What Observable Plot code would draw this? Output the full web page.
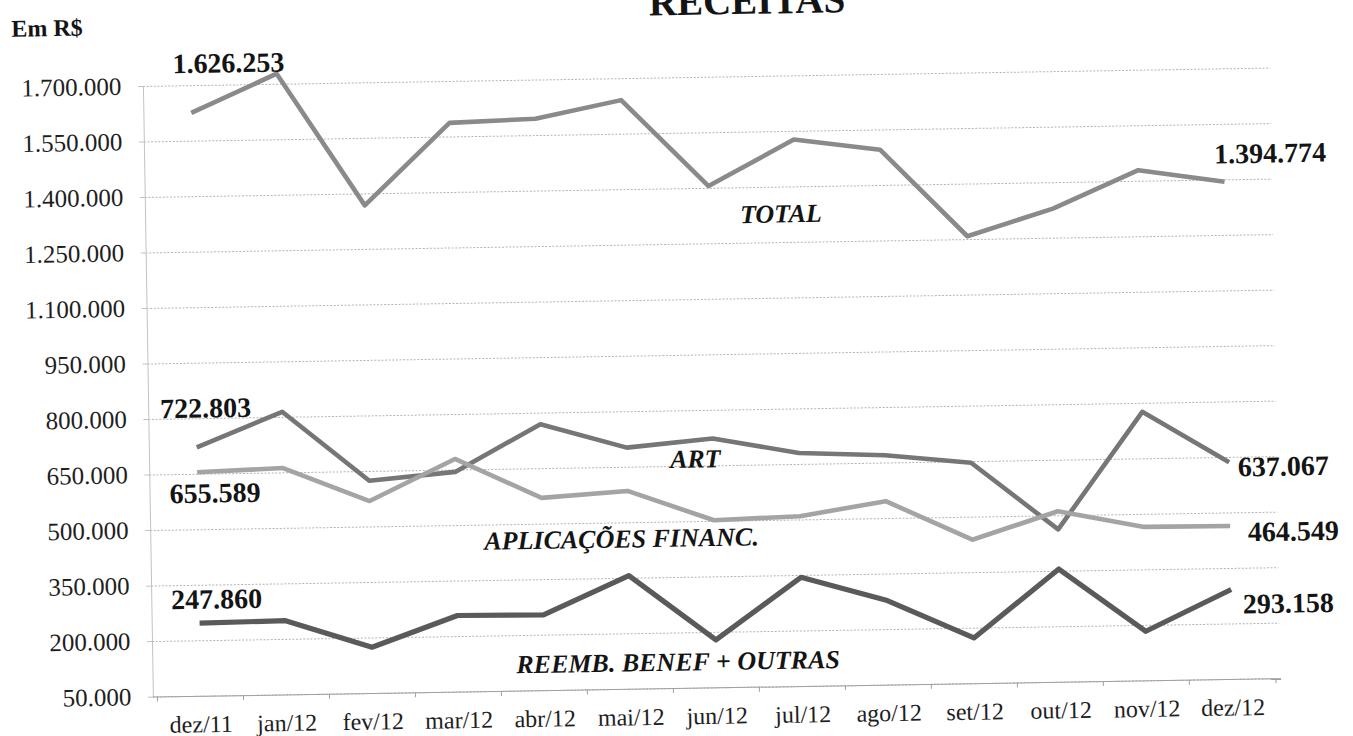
<!DOCTYPE html>
<html>
<head>
<meta charset="utf-8">
<script src="https://cdn.jsdelivr.net/npm/d3@7"></script>
<script src="https://cdn.jsdelivr.net/npm/@observablehq/plot@0.6"></script>
<style>
  html, body { margin: 0; padding: 0; background: #ffffff; overflow: hidden; }
  #wrap { position: relative; width: 1353px; height: 736px; background: #ffffff;
          transform: rotate(-0.934deg); transform-origin: 676px 368px; }
  .hdr { position: absolute; font-family: "Liberation Serif", "Times New Roman", serif;
         font-weight: bold; color: #141414; white-space: nowrap; line-height: 1; }
  #wrap svg { position: absolute; left: 0; top: 0; }
</style>
</head>
<body>
<div id="wrap">
  <div class="hdr" id="title" style="font-size:39px; left:753px; top:-18.5px; transform:translateX(-50%);">RECEITAS</div>
  <div class="hdr" id="unit" style="font-size:24px; left:17px; top:5.7px;">Em R$</div>
</div>
<script>
// ---- data ----
const months = ["dez/11","jan/12","fev/12","mar/12","abr/12","mai/12","jun/12","jul/12","ago/12","set/12","out/12","nov/12","dez/12"];
const seriesNames = ["TOTAL", "ART", "APLICAÇÕES FINANC.", "REEMB. BENEF + OUTRAS"];
const totalValues = [1626253, 1728600, 1369000, 1588000, 1595600, 1642000, 1406000, 1528000, 1496600, 1259000, 1330000, 1430000, 1394774];
const artValues   = [722803, 815000, 625000, 645000, 770000, 703000, 724000, 681000, 671000, 647000, 463000, 777000, 637067];
const aplicValues = [655589, 663000, 570000, 680000, 571000, 586000, 503000, 510000, 547000, 439000, 512000, 466000, 464549];
const reembValues = [247860, 250600, 175000, 257000, 255000, 357000, 179600, 345000, 278400, 173500, 356000, 184000, 293158];
const yTicks = [50000, 200000, 350000, 500000, 650000, 800000, 950000, 1100000, 1250000, 1400000, 1550000, 1700000];

// ---- table built from the arrays ----
const seriesValues = [totalValues, artValues, aplicValues, reembValues];
const rows = seriesNames.flatMap((s, i) => months.map((m, j) => ({series: s, month: m, value: seriesValues[i][j]})));

const locale = d3.formatLocale({decimal: ",", thousands: ".", grouping: [3], currency: ["R$ ", ""]});
const fmt = locale.format(",d");

const W = 1353, H = 736;
const mL = 147.6, mR = 78, mT = 77.3, mB = 48;
const step = (W - mL - mR) / months.length;

const lineStyles = {
  "TOTAL": {stroke: "#8a8a8a", width: 4.6},
  "ART": {stroke: "#767676", width: 4.6},
  "APLICAÇÕES FINANC.": {stroke: "#a4a4a4", width: 4.6},
  "REEMB. BENEF + OUTRAS": {stroke: "#5a5a5a", width: 5.2}
};

const pt = (series, month) => rows.filter(d => d.series === series && d.month === month);

function valueLabel(series, month, dx, dy) {
  return Plot.text(pt(series, month), {
    x: "month", y: "value", text: d => fmt(d.value), dx, dy,
    textAnchor: "start", lineAnchor: "bottom",
    fontSize: 28, fontWeight: "bold", fill: "#141414"
  });
}
function seriesLabel(series, month, dx, dy) {
  return Plot.text(pt(series, month), {
    x: "month", y: "value", text: "series", dx, dy,
    textAnchor: "start", lineAnchor: "bottom",
    fontSize: 26, fontWeight: "bold", fontStyle: "italic", fill: "#141414"
  });
}

const lines = seriesNames.map(s => Plot.line(rows.filter(d => d.series === s), {
  x: "month", y: "value",
  stroke: lineStyles[s].stroke, strokeWidth: lineStyles[s].width,
  strokeLinejoin: "round", strokeLinecap: "butt"
}));

const first = months[0], last = months[months.length - 1];

const chart = Plot.plot({
  width: W, height: H,
  marginLeft: mL, marginRight: mR, marginTop: mT, marginBottom: mB,
  style: {fontFamily: '"Liberation Serif", "Times New Roman", serif', background: "transparent", color: "#1a1a1a"},
  x: {type: "point", domain: months, padding: 0.5, label: null},
  y: {domain: [50000, 1700000], label: null},
  marks: [
    Plot.gridY(yTicks, {stroke: "#b4b4b4", strokeOpacity: 1, strokeDasharray: "2 1.6"}),
    Plot.frame({anchor: "left", stroke: "#c2c2c2"}),
    Plot.frame({anchor: "bottom", stroke: "#a0a0a0"}),
    Plot.axisY(yTicks, {tickSize: 5, tickPadding: 17, tickFormat: fmt, fontSize: 25, stroke: "#c2c2c2", fill: "#1e1e1e", label: null}),
    Plot.axisX({tickSize: 0, tickPadding: 19, fontSize: 24, fill: "#1e1e1e", label: null}),
    Plot.axisX(months, {tickSize: 5, dx: -step / 2, tickFormat: () => "", stroke: "#a0a0a0", label: null}),
    Plot.axisX([last], {tickSize: 5, dx: step / 2, tickFormat: () => "", stroke: "#a0a0a0", label: null}),
    ...lines,
    valueLabel("TOTAL", first, -18, -40),
    valueLabel("TOTAL", last, -10, -18.5),
    valueLabel("ART", first, -36, -29.7),
    valueLabel("ART", last, 8.7, 14.3),
    valueLabel("APLICAÇÕES FINANC.", first, -28, 30.5),
    valueLabel("APLICAÇÕES FINANC.", last, 17.6, 15.6),
    valueLabel("REEMB. BENEF + OUTRAS", first, -28, -14.3),
    valueLabel("REEMB. BENEF + OUTRAS", last, 11.4, 24.1),
    seriesLabel("TOTAL", "jun/12", 31, 37.6),
    seriesLabel("ART", "jun/12", -43, 28.8),
    seriesLabel("APLICAÇÕES FINANC.", "abr/12", -58, 51),
    seriesLabel("REEMB. BENEF + OUTRAS", "abr/12", -28, 58)
  ]
});

document.getElementById("wrap").appendChild(chart);
</script>
</body>
</html>
